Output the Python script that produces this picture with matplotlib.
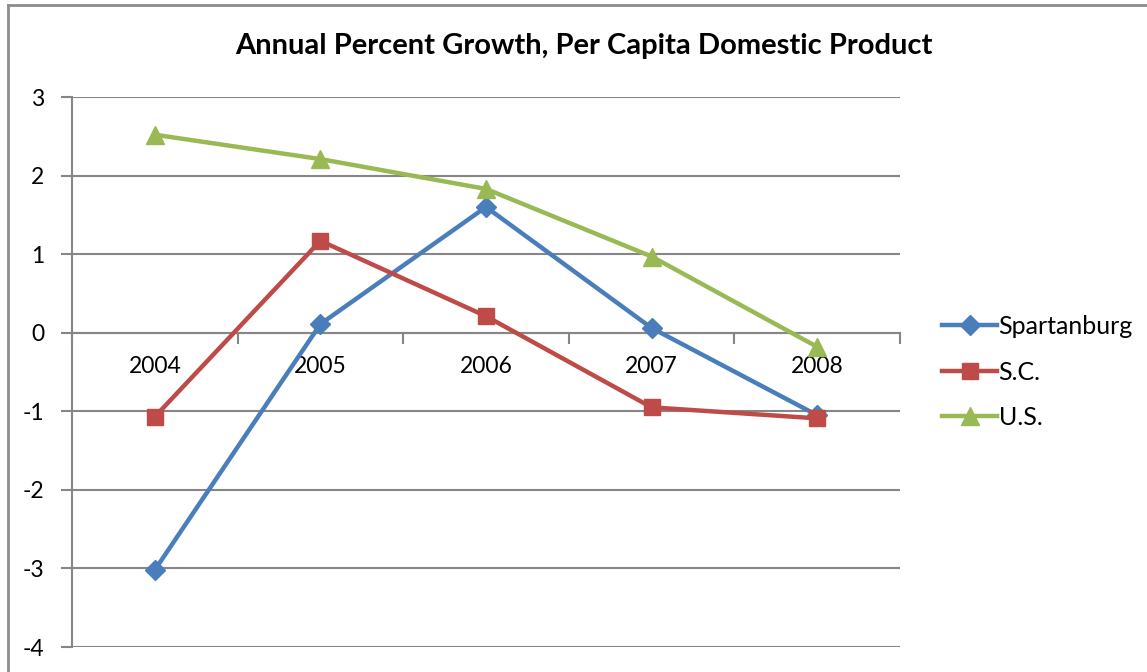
import matplotlib
matplotlib.use("Agg")
import matplotlib.pyplot as plt
from matplotlib.lines import Line2D

years = ["2004", "2005", "2006", "2007", "2008"]
spartanburg = [-3.02, 0.11, 1.60, 0.06, -1.05]
sc = [-1.07, 1.17, 0.21, -0.95, -1.09]
us = [2.52, 2.21, 1.83, 0.97, -0.18]
y_ticks = [-4, -3, -2, -1, 0, 1, 2, 3]

plt.rcParams['font.family'] = ['Lato', 'DejaVu Sans']

fig = plt.figure(figsize=(11.47, 6.72), dpi=100)
ax = fig.add_axes([72/1147, 1-647/672, (900-72)/1147, (647-97)/672])

grid_c = "#868686"
x = list(range(len(years)))
ax.plot(x, spartanburg, color="#4A7EBB", lw=3.2, marker="D", ms=10, label="Spartanburg", zorder=3)
ax.plot(x, sc, color="#BE4B48", lw=3.2, marker="s", ms=12, label="S.C.", zorder=3)
ax.plot(x, us, color="#98B954", lw=3.2, marker="^", ms=13, label="U.S.", zorder=3)

ax.set_xlim(-0.5, len(years) - 0.5)
ax.set_ylim(-4, 3)
ax.set_yticks(y_ticks)
ax.set_yticklabels([str(v) for v in y_ticks])
ax.yaxis.grid(True, color=grid_c, lw=1.5, zorder=0)
ax.set_axisbelow(True)

for s in ["top", "right"]:
    ax.spines[s].set_visible(False)
ax.spines["left"].set_color(grid_c)
ax.spines["left"].set_linewidth(1.5)
ax.spines["bottom"].set_position(("data", 0))
ax.spines["bottom"].set_color(grid_c)
ax.spines["bottom"].set_linewidth(1.5)

ax.set_xticks(x)
ax.set_xticklabels(years)
ax.set_xticks([i - 0.5 for i in range(len(years) + 1)], minor=True)
ax.tick_params(axis="x", which="major", length=0, pad=17, labelsize=16.5)
ax.tick_params(axis="x", which="minor", length=8, width=1.5, color=grid_c, direction="out")
ax.tick_params(axis="y", length=8, width=1.5, color=grid_c, pad=12, labelsize=16.5)

fig.text(584/1147, 1-46/672, "Annual Percent Growth, Per Capita Domestic Product",
         ha="center", va="center", fontsize=21, fontweight="bold")

leg = ax.legend(loc="center left", bbox_to_anchor=(1.039, 0.50), frameon=False,
                fontsize=18, handlelength=2.2, handletextpad=0.05, labelspacing=0.9,
                borderaxespad=0)

fig.add_artist(Line2D([8/1147, 8/1147], [0, 1-5/672], color="#8c8c8c", lw=2, transform=fig.transFigure))
fig.add_artist(Line2D([8/1147, 1], [1-5/672, 1-5/672], color="#8c8c8c", lw=2, transform=fig.transFigure))

fig.savefig("out.png", dpi=100)
